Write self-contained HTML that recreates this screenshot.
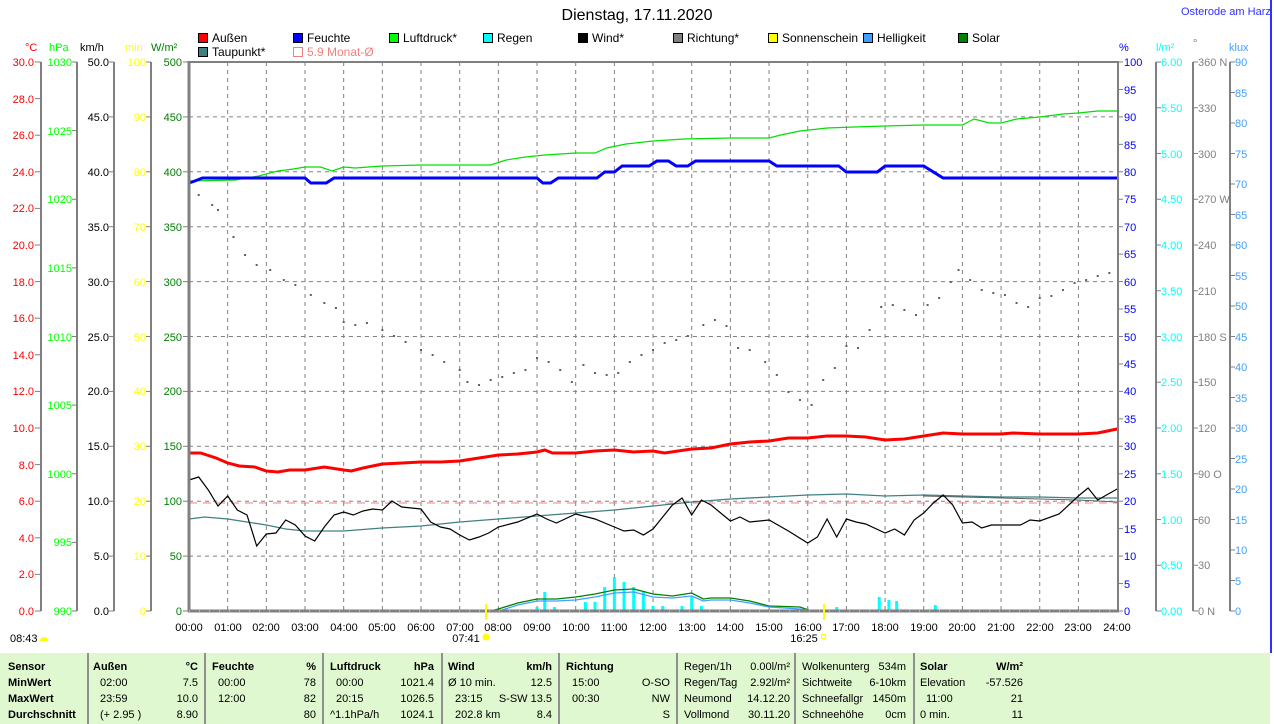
<!DOCTYPE html>
<html><head><meta charset="utf-8">
<style>
html,body{margin:0;padding:0;background:#fff;}
svg{display:block;font-family:"Liberation Sans",sans-serif;font-size:11px;}
</style></head><body>
<svg id="s" width="1274" height="724" xmlns="http://www.w3.org/2000/svg">
<rect x="0" y="0" width="1274" height="724" fill="#fff"/>
<text x="637" y="20" text-anchor="middle" font-size="16">Dienstag, 17.11.2020</text>
<text x="1181" y="15" font-size="11" fill="#3030ff">Osterode am Harz</text>
<line x1="1271" y1="0" x2="1271" y2="653" stroke="#3030ff" stroke-width="2"/>

<!-- legend -->
<g font-size="12">
<rect x="198.5" y="33.5" width="9" height="9" fill="#f00" stroke="#000"/><text x="212" y="42">Außen</text>
<rect x="293.5" y="33.5" width="9" height="9" fill="#00f" stroke="#000"/><text x="307" y="42">Feuchte</text>
<rect x="389.5" y="33.5" width="9" height="9" fill="#0f0" stroke="#000"/><text x="403" y="42">Luftdruck*</text>
<rect x="483.5" y="33.5" width="9" height="9" fill="#0ff" stroke="#000"/><text x="497" y="42">Regen</text>
<rect x="578.5" y="33.5" width="9" height="9" fill="#000" stroke="#000"/><text x="592" y="42">Wind*</text>
<rect x="673.5" y="33.5" width="9" height="9" fill="#808080" stroke="#000"/><text x="687" y="42">Richtung*</text>
<rect x="768.5" y="33.5" width="9" height="9" fill="#ff0" stroke="#000"/><text x="782" y="42">Sonnenschein</text>
<rect x="863.5" y="33.5" width="9" height="9" fill="#40a0ff" stroke="#000"/><text x="877" y="42">Helligkeit</text>
<rect x="958.5" y="33.5" width="9" height="9" fill="#008000" stroke="#000"/><text x="972" y="42">Solar</text>
<rect x="198.5" y="47.5" width="9" height="9" fill="#408080" stroke="#000"/><text x="212" y="56">Taupunkt*</text>
<rect x="293.5" y="47.5" width="9" height="9" fill="none" stroke="#f08080"/><text x="307" y="56" fill="#f08080">5.9 Monat-Ø</text>
</g>

<!-- units -->
<text x="25" y="51" fill="#f00">°C</text>
<text x="49" y="51" fill="#0f0">hPa</text>
<text x="80" y="51">km/h</text>
<text x="125" y="51" fill="#ff0">min</text>
<text x="151" y="51" fill="#008000">W/m²</text>
<text x="1119" y="51" fill="#0000ff">%</text>
<text x="1156" y="51" fill="#0ff">l/m²</text>
<text x="1193" y="47" fill="#808080">°</text>
<text x="1229" y="51" fill="#40a0ff">klux</text>

<!-- axis lines -->
<g stroke="#808080" stroke-width="2">
<line x1="41" y1="62" x2="41" y2="611"/>
<line x1="77" y1="62" x2="77" y2="611"/>
<line x1="114" y1="62" x2="114" y2="611"/>
<line x1="151" y1="62" x2="151" y2="611"/>
<line x1="1156" y1="62" x2="1156" y2="611"/>
<line x1="1193" y1="62" x2="1193" y2="611"/>
<line x1="1230" y1="62" x2="1230" y2="611"/>
</g>
<g id="ticks" stroke="#808080" stroke-width="1"></g>

<!-- °C labels -->
<g fill="#f00" text-anchor="end">
<text x="34" y="66">30.0</text><text x="34" y="103">28.0</text><text x="34" y="139">26.0</text><text x="34" y="176">24.0</text><text x="34" y="212">22.0</text><text x="34" y="249">20.0</text><text x="34" y="286">18.0</text><text x="34" y="322">16.0</text><text x="34" y="359">14.0</text><text x="34" y="395">12.0</text><text x="34" y="432">10.0</text><text x="34" y="469">8.0</text><text x="34" y="505">6.0</text><text x="34" y="542">4.0</text><text x="34" y="578">2.0</text><text x="34" y="615">0.0</text>
</g>
<g fill="#0f0" text-anchor="end">
<text x="72" y="66">1030</text><text x="72" y="135">1025</text><text x="72" y="203">1020</text><text x="72" y="272">1015</text><text x="72" y="341">1010</text><text x="72" y="409">1005</text><text x="72" y="478">1000</text><text x="72" y="546">995</text><text x="72" y="615">990</text>
</g>
<g fill="#000" text-anchor="end">
<text x="109" y="66">50.0</text><text x="109" y="121">45.0</text><text x="109" y="176">40.0</text><text x="109" y="231">35.0</text><text x="109" y="286">30.0</text><text x="109" y="341">25.0</text><text x="109" y="395">20.0</text><text x="109" y="450">15.0</text><text x="109" y="505">10.0</text><text x="109" y="560">5.0</text><text x="109" y="615">0.0</text>
</g>
<g fill="#ff0" text-anchor="end">
<text x="146" y="66">100</text><text x="146" y="121">90</text><text x="146" y="176">80</text><text x="146" y="231">70</text><text x="146" y="286">60</text><text x="146" y="341">50</text><text x="146" y="395">40</text><text x="146" y="450">30</text><text x="146" y="505">20</text><text x="146" y="560">10</text><text x="146" y="615">0</text>
</g>
<g fill="#008000" text-anchor="end">
<text x="182" y="66">500</text><text x="182" y="121">450</text><text x="182" y="176">400</text><text x="182" y="231">350</text><text x="182" y="286">300</text><text x="182" y="341">250</text><text x="182" y="395">200</text><text x="182" y="450">150</text><text x="182" y="505">100</text><text x="182" y="560">50</text><text x="182" y="615">0</text>
</g>
<g fill="#0000ff">
<text x="1124" y="66">100</text><text x="1124" y="94">95</text><text x="1124" y="121">90</text><text x="1124" y="149">85</text><text x="1124" y="176">80</text><text x="1124" y="203">75</text><text x="1124" y="231">70</text><text x="1124" y="258">65</text><text x="1124" y="286">60</text><text x="1124" y="313">55</text><text x="1124" y="341">50</text><text x="1124" y="368">45</text><text x="1124" y="395">40</text><text x="1124" y="423">35</text><text x="1124" y="450">30</text><text x="1124" y="478">25</text><text x="1124" y="505">20</text><text x="1124" y="533">15</text><text x="1124" y="560">10</text><text x="1124" y="588">5</text><text x="1124" y="615">0</text>
</g>
<g fill="#0ff">
<text x="1161" y="66">6.00</text><text x="1161" y="112">5.50</text><text x="1161" y="158">5.00</text><text x="1161" y="203">4.50</text><text x="1161" y="249">4.00</text><text x="1161" y="295">3.50</text><text x="1161" y="341">3.00</text><text x="1161" y="386">2.50</text><text x="1161" y="432">2.00</text><text x="1161" y="478">1.50</text><text x="1161" y="524">1.00</text><text x="1161" y="569">0.50</text><text x="1161" y="615">0.00</text>
</g>
<g fill="#808080">
<text x="1198" y="66">360 N</text><text x="1198" y="112">330</text><text x="1198" y="158">300</text><text x="1198" y="203">270 W</text><text x="1198" y="249">240</text><text x="1198" y="295">210</text><text x="1198" y="341">180 S</text><text x="1198" y="386">150</text><text x="1198" y="432">120</text><text x="1198" y="478">90 O</text><text x="1198" y="524">60</text><text x="1198" y="569">30</text><text x="1198" y="615">0 N</text>
</g>
<g fill="#40a0ff">
<text x="1235" y="66">90</text><text x="1235" y="97">85</text><text x="1235" y="127">80</text><text x="1235" y="158">75</text><text x="1235" y="188">70</text><text x="1235" y="219">65</text><text x="1235" y="249">60</text><text x="1235" y="280">55</text><text x="1235" y="310">50</text><text x="1235" y="341">45</text><text x="1235" y="371">40</text><text x="1235" y="402">35</text><text x="1235" y="432">30</text><text x="1235" y="463">25</text><text x="1235" y="493">20</text><text x="1235" y="524">15</text><text x="1235" y="554">10</text><text x="1235" y="585">5</text><text x="1235" y="615">0</text>
</g>

<!-- grid -->
<g id="grid" stroke="#808080" stroke-width="1" stroke-dasharray="4,4"></g>
<line x1="189" y1="503" x2="1117" y2="503" stroke="#f08080" stroke-dasharray="8,6"/>
<g id="series"></g>
<!-- frame -->
<g stroke="#808080" fill="none">
<line x1="189" y1="62" x2="1118" y2="62" stroke-width="2"/>
<line x1="189" y1="61" x2="189" y2="612" stroke-width="3"/>
<line x1="1118" y1="61" x2="1118" y2="612" stroke-width="2"/>
<line x1="188" y1="611" x2="1119" y2="611" stroke-width="3"/>
</g>
<line x1="189" y1="611" x2="1117" y2="611" stroke="#ff0" stroke-width="1" stroke-dasharray="1,9"/>
<line x1="486" y1="604" x2="486" y2="620" stroke="#ff0" stroke-width="2"/>
<line x1="824" y1="604" x2="824" y2="620" stroke="#ff0" stroke-width="2"/>

<!-- time labels -->
<g text-anchor="middle">
<text x="189" y="631">00:00</text><text x="228" y="631">01:00</text><text x="266" y="631">02:00</text><text x="305" y="631">03:00</text><text x="344" y="631">04:00</text><text x="382" y="631">05:00</text><text x="421" y="631">06:00</text><text x="460" y="631">07:00</text><text x="498" y="631">08:00</text><text x="537" y="631">09:00</text><text x="576" y="631">10:00</text><text x="614" y="631">11:00</text><text x="653" y="631">12:00</text><text x="692" y="631">13:00</text><text x="730" y="631">14:00</text><text x="769" y="631">15:00</text><text x="808" y="631">16:00</text><text x="846" y="631">17:00</text><text x="885" y="631">18:00</text><text x="924" y="631">19:00</text><text x="962" y="631">20:00</text><text x="1001" y="631">21:00</text><text x="1040" y="631">22:00</text><text x="1078" y="631">23:00</text><text x="1117" y="631">24:00</text>
</g>
<text x="466" y="642" text-anchor="middle">07:41</text>
<circle cx="486" cy="637" r="3.5" fill="#ff0"/>
<text x="804" y="642" text-anchor="middle">16:25</text>
<rect x="821.5" y="634.5" width="4" height="4" fill="none" stroke="#ff0"/>
<text x="10" y="642">08:43</text>
<path d="M40 641 a4 4 0 0 1 8 0 z" fill="#ff0"/>

<!-- table -->
<rect x="0" y="653" width="1270" height="71" fill="#e0f8d0"/>
<g stroke="#909090" stroke-width="2">
<line x1="88" y1="653" x2="88" y2="724"/><line x1="205" y1="653" x2="205" y2="724"/><line x1="323" y1="653" x2="323" y2="724"/><line x1="442" y1="653" x2="442" y2="724"/><line x1="559" y1="653" x2="559" y2="724"/><line x1="677" y1="653" x2="677" y2="724"/><line x1="795" y1="653" x2="795" y2="724"/><line x1="914" y1="653" x2="914" y2="724"/>
</g>
<g font-size="11">
<g font-weight="bold"><text x="8" y="670">Sensor</text><text x="8" y="686">MinWert</text><text x="8" y="702">MaxWert</text><text x="8" y="718">Durchschnitt</text>
<text x="93" y="670">Außen</text><text x="198" y="670" text-anchor="end">°C</text>
<text x="212" y="670">Feuchte</text><text x="316" y="670" text-anchor="end">%</text>
<text x="330" y="670">Luftdruck</text><text x="434" y="670" text-anchor="end">hPa</text>
<text x="448" y="670">Wind</text><text x="552" y="670" text-anchor="end">km/h</text>
<text x="566" y="670">Richtung</text>
<text x="920" y="670">Solar</text><text x="1023" y="670" text-anchor="end">W/m²</text></g>
<text x="100" y="686">02:00</text><text x="198" y="686" text-anchor="end">7.5</text>
<text x="100" y="702">23:59</text><text x="198" y="702" text-anchor="end">10.0</text>
<text x="100" y="718">(+ 2.95 )</text><text x="198" y="718" text-anchor="end">8.90</text>
<text x="218" y="686">00:00</text><text x="316" y="686" text-anchor="end">78</text>
<text x="218" y="702">12:00</text><text x="316" y="702" text-anchor="end">82</text>
<text x="316" y="718" text-anchor="end">80</text>
<text x="336" y="686">00:00</text><text x="434" y="686" text-anchor="end">1021.4</text>
<text x="336" y="702">20:15</text><text x="434" y="702" text-anchor="end">1026.5</text>
<text x="330" y="718">^1.1hPa/h</text><text x="434" y="718" text-anchor="end">1024.1</text>
<text x="448" y="686">Ø 10 min.</text><text x="552" y="686" text-anchor="end">12.5</text>
<text x="455" y="702">23:15</text><text x="552" y="702" text-anchor="end">S-SW 13.5</text>
<text x="455" y="718">202.8 km</text><text x="552" y="718" text-anchor="end">8.4</text>
<text x="572" y="686">15:00</text><text x="670" y="686" text-anchor="end">O-SO</text>
<text x="572" y="702">00:30</text><text x="670" y="702" text-anchor="end">NW</text>
<text x="670" y="718" text-anchor="end">S</text>
<text x="684" y="670">Regen/1h</text><text x="790" y="670" text-anchor="end">0.00l/m²</text>
<text x="684" y="686">Regen/Tag</text><text x="790" y="686" text-anchor="end">2.92l/m²</text>
<text x="684" y="702">Neumond</text><text x="790" y="702" text-anchor="end">14.12.20</text>
<text x="684" y="718">Vollmond</text><text x="790" y="718" text-anchor="end">30.11.20</text>
<text x="802" y="670">Wolkenunterg</text><text x="906" y="670" text-anchor="end">534m</text>
<text x="802" y="686">Sichtweite</text><text x="906" y="686" text-anchor="end">6-10km</text>
<text x="802" y="702">Schneefallgr</text><text x="906" y="702" text-anchor="end">1450m</text>
<text x="802" y="718">Schneehöhe</text><text x="906" y="718" text-anchor="end">0cm</text>
<text x="920" y="686">Elevation</text><text x="1023" y="686" text-anchor="end">-57.526</text>
<text x="926" y="702">11:00</text><text x="1023" y="702" text-anchor="end">21</text>
<text x="920" y="718">0 min.</text><text x="1023" y="718" text-anchor="end">11</text>
</g>
</svg>
<script>
var NS="http://www.w3.org/2000/svg";
function X(h){return 189+h*38.67;}
function el(p,t,a){var e=document.createElementNS(NS,t);for(var k in a)e.setAttribute(k,a[k]);p.appendChild(e);return e;}
var g=document.getElementById('grid'),tk=document.getElementById('ticks'),s=document.getElementById('series');
for(var h=1;h<24;h++)el(g,'line',{x1:X(h),y1:62,x2:X(h),y2:611});
for(var i=1;i<10;i++){var y=62+i*54.9;el(g,'line',{x1:189,y1:y,x2:1117,y2:y});}
function ticks(x1,x2,step){for(var y=62;y<=611.5;y+=step)el(tk,'line',{x1:x1,y1:y,x2:x2,y2:y});}
ticks(35,41,36.6);ticks(72,77,68.625);ticks(109,114,54.9);ticks(146,151,54.9);ticks(183,189,54.9);
ticks(1118,1123,27.45);ticks(1156,1161,45.75);ticks(1193,1198,45.75);ticks(1230,1235,30.5);
function pl(d,c,w){var p=[];for(var i=0;i<d.length;i+=2)p.push(X(d[i]).toFixed(1)+','+d[i+1]);el(s,'polyline',{points:p.join(' '),fill:'none',stroke:c,'stroke-width':w});}
var dir=[0.25,195,0.6,205,0.75,210,1.15,237,1.45,255,1.75,265,2.1,270,2.45,280,2.75,285,3.15,295,3.5,303,3.8,308,4.0,322,4.3,325,4.6,323,5.0,330,5.3,336,5.6,342,6.0,350,6.3,355,6.6,362,7.0,370,7.2,382,7.5,385,7.8,380,8.1,377,8.4,373,8.7,370,9.0,358,9.3,362,9.6,370,9.9,382,10.2,365,10.5,373,10.8,375,11.1,373,11.4,362,11.7,355,12.0,350,12.3,343,12.6,340,12.9,336,13.3,325,13.6,320,13.9,326,14.2,348,14.5,350,14.9,362,15.2,375,15.5,392,15.8,400,16.1,405,16.4,380,16.7,368,17.0,346,17.3,348,17.6,330,17.9,307,18.2,305,18.5,310,18.8,315,19.1,305,19.4,298,19.7,282,19.9,270,20.2,280,20.5,290,20.8,293,21.1,295,21.4,303,21.7,307,22.0,298,22.3,296,22.6,290,22.9,283,23.2,280,23.5,276,23.8,273];
for(var i=0;i<dir.length;i+=2)el(s,'rect',{x:X(dir[i])-1,y:dir[i+1]-1,width:2,height:2,fill:'#606060'});
var rain=[9.0,607,9.2,592,9.45,607,10.25,602,10.5,602,10.75,587,11.0,577,11.25,582,11.5,587,11.75,592,12.0,606,12.25,606,12.75,606,13.0,597,13.25,606,16.75,607,17.85,597,18.1,600,18.3,601,19.3,605];
for(var i=0;i<rain.length;i+=2)el(s,'rect',{x:X(rain[i])-1.5,y:rain[i+1],width:3,height:611-rain[i+1],fill:'#0ff'});
pl([7.8,611,8.0,609,8.5,603,9.0,599,9.5,599,10.0,597,10.5,594,11.0,590,11.5,589,12.0,594,12.5,596,13.0,593,13.3,599,13.5,598,14.0,598,14.5,601,15.0,606,15.8,607,16.1,611],'#008000',1.3);
pl([7.9,611,8.1,610,8.5,605,9.0,601,9.5,601,10.0,600,10.5,597,11.0,593,11.5,592,12.0,597,12.5,598,13.0,596,13.3,601,13.5,600,14.0,600,14.5,603,15.0,607,15.8,609,16.2,611],'#40a0ff',1.3);
pl([0,519,0.4,517,1,519,2,525,2.5,529,3,531,4,531,5,528,6,526,7,522,8,519,9,516,10,513,11,510,12,506,13,502,14,499,15,497,16,495,17,494,18,496,19,495,20,496,21,497,22,497,23,498,24,498],'#408080',1.3);
pl([19,496,20,497,21,498,22,499,23,500,24,502],'#606060',1);
pl([0,480,0.25,477,0.5,490,0.75,506,1.0,496,1.25,510,1.5,515,1.75,546,2.0,534,2.25,533,2.5,520,2.75,525,3.0,536,3.25,541,3.5,527,3.75,515,4.0,512,4.25,515,4.5,511,4.75,509,5.0,510,5.25,501,5.5,507,6.0,509,6.25,522,6.5,527,6.75,529,7.0,535,7.25,540,7.5,537,7.75,533,8.0,527,8.5,522,9.0,514,9.25,519,9.5,523,10.0,514,10.5,519,11.0,527,11.25,531,11.5,530,11.75,535,12.0,529,12.5,505,12.75,498,13.0,515,13.25,500,13.5,505,14.0,521,14.25,517,14.5,522,15.0,520,15.5,531,16.0,543,16.25,537,16.5,519,16.75,537,17.0,519,17.25,522,17.5,524,18.0,533,18.25,529,18.5,535,18.75,520,19.0,513,19.25,503,19.5,495,19.75,505,20.0,523,20.25,522,20.5,528,20.75,525,21.0,525,21.5,525,21.75,520,22.0,521,22.5,514,23.0,496,23.25,488,23.5,500,24.0,489],'#000',1.2);
pl([0,181,1.2,180,1.8,176,2.3,171,2.7,169,3.0,167,3.4,167,3.7,171,4.0,167,4.3,168,5.0,166,6.0,165,7.0,165,7.8,165,8.2,160,8.7,157,9.2,155,10.0,153,10.5,153,10.8,148,11.3,144,12.0,141,12.8,139,14.0,138,15.0,138,15.3,135,15.8,131,16.5,128,17.2,127,18.0,126,19.0,125,20.0,125,20.3,119,20.7,123,21.0,123,21.4,119,22.0,117,22.6,114,23.0,113,23.5,111,24.0,111],'#00e000',1.2);
pl([0,183,0.15,181,0.35,178,3.0,178,3.15,183,3.55,183,3.75,178,9.0,178,9.15,183,9.35,183,9.55,178,10.55,178,10.75,172,11.0,172,11.2,166,11.9,166,12.1,161,12.4,161,12.6,166,12.9,166,13.1,161,15.0,161,15.2,166,16.8,166,17.0,172,17.8,172,18.0,166,19.0,166,19.5,178,24,178],'#0000ff',3);
pl([0,453,0.3,453,0.7,458,1.0,463,1.3,466,1.7,467,2.0,471,2.3,472,2.6,470,3.0,470,3.5,467,4.0,470,4.2,471,4.5,468,5.0,464,5.5,463,6.0,462,6.5,462,7.0,461,7.5,458,8.0,455,8.5,454,9.0,452,9.2,450,9.4,453,10.0,453,10.5,451,11.0,450,11.5,452,12.0,451,12.3,453,13.0,449,13.5,448,14.0,444,14.5,442,15.0,441,15.5,438,16.0,438,16.5,436,17.0,436,17.5,437,18.0,440,18.5,439,19.0,436,19.5,433,20.0,434,20.3,434,21.0,434,21.3,433,22.0,434,23.0,434,23.5,433,24.0,429],'#f00',3);
</script>
</body></html>
